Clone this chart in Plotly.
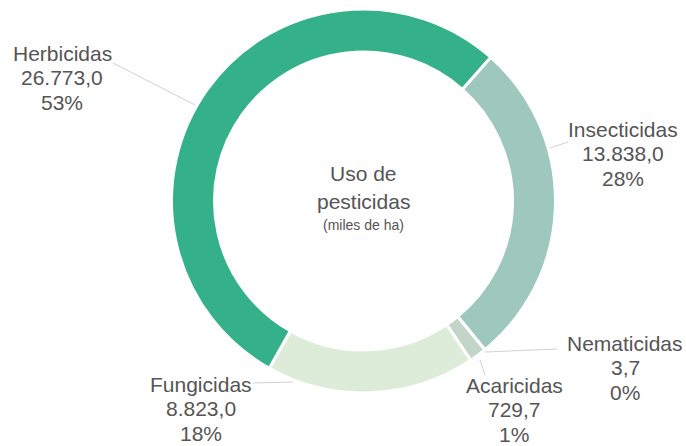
import plotly.graph_objects as go

W, H = 686, 446

categories = ["Insecticidas", "Nematicidas", "Acaricidas", "Fungicidas", "Herbicidas"]
values = [13838.0, 3.7, 729.7, 8823.0, 26773.0]
value_labels = ["13.838,0", "3,7", "729,7", "8.823,0", "26.773,0"]
pct_labels = ["28%", "0%", "1%", "18%", "53%"]
colors = ["#9fc8bd", "#c3d5c6", "#c3d5c6", "#dcecd9", "#35b189"]

# label anchor (pixel) positions and leader lines
label_pos = {
    "Herbicidas": (62, 53),
    "Insecticidas": (623, 129),
    "Nematicidas": (625, 343),
    "Acaricidas": (514, 385),
    "Fungicidas": (201, 384),
}
leaders = {
    "Herbicidas": ((113, 63), (195, 105)),
    "Insecticidas": ((550, 148), (568, 142)),
    "Nematicidas": ((485, 352), (557, 349)),
    "Acaricidas": ((480, 360), (485, 375)),
    "Fungicidas": ((253, 383), (293, 382)),
}

cx, cy, R = 363.5, 201, 192

def px(x):
    return x / W

def py(y):
    return 1 - y / H

fig = go.Figure(go.Pie(
    labels=categories,
    values=values,
    sort=False,
    direction="clockwise",
    rotation=41.5,
    hole=0.776,
    marker=dict(colors=colors, line=dict(color="white", width=3)),
    textinfo="none",
    hoverinfo="label+value+percent",
    domain=dict(x=[px(cx - R), px(cx + R)], y=[py(cy + R), py(cy - R)]),
    showlegend=False,
))

font_lab = dict(family="Liberation Sans, Arial, sans-serif", size=21, color="#555555")
annotations = []
shapes = []
for i, c in enumerate(categories):
    x0, y0 = label_pos[c]
    for j, t in enumerate([c, value_labels[i], pct_labels[i]]):
        annotations.append(dict(
            x=px(x0), y=py(y0 + 24.5 * j), xref="paper", yref="paper",
            text=t, showarrow=False, xanchor="center", yanchor="middle",
            font=font_lab,
        ))
    (a, b), (c2, d) = leaders[c]
    shapes.append(dict(type="line", xref="paper", yref="paper",
                       x0=px(a), y0=py(b), x1=px(c2), y1=py(d),
                       line=dict(color="#d0d0d0", width=1)))

center_font = dict(family="Liberation Sans Narrow, Liberation Sans, sans-serif", size=21, color="#555555")
annotations += [
    dict(x=px(cx), y=py(173), xref="paper", yref="paper", text="Uso de",
         showarrow=False, xanchor="center", yanchor="middle", font=center_font),
    dict(x=px(cx), y=py(201), xref="paper", yref="paper", text="pesticidas",
         showarrow=False, xanchor="center", yanchor="middle", font=center_font),
    dict(x=px(cx), y=py(225), xref="paper", yref="paper", text="(miles de ha)",
         showarrow=False, xanchor="center", yanchor="middle",
         font=dict(family="Liberation Sans Narrow, Liberation Sans, sans-serif", size=14, color="#555555")),
]

fig.update_layout(
    width=W, height=H,
    margin=dict(l=0, r=0, t=0, b=0),
    paper_bgcolor="white",
    plot_bgcolor="white",
    annotations=annotations,
    shapes=shapes,
)

fig.write_html("out.html", config={"displayModeBar": False},
               post_script="document.body.style.margin='0';document.body.style.overflow='hidden';")
